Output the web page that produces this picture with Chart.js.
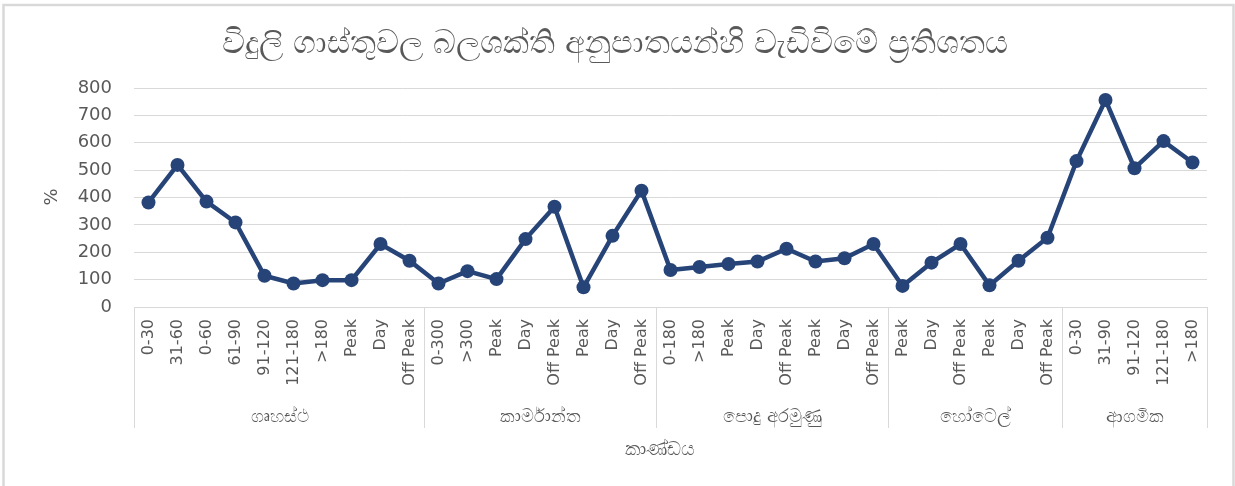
<!DOCTYPE html>
<html>
<head>
<meta charset="utf-8">
<script src="https://cdn.jsdelivr.net/npm/chart.js@4.4.1/dist/chart.umd.min.js"></script>
<style>
html,body{margin:0;padding:0;background:#fff;}
#wrap{width:1235px;height:486px;position:relative;}
</style>
</head>
<body>
<div id="wrap"><canvas id="c" width="1235" height="486"></canvas></div>
<script>
const chartTitle = "විදුලි ගාස්තුවල බලශක්ති අනුපාතයන්හි වැඩිවිමේ ප්‍රතිශතය";
const xAxisTitle = "කාණ්ඩය";
const yAxisTitle = "%";

const groupNames = ["ගෘහස්ථ", "කාර්මාන්ත", "පොදු අරමුණු", "හෝටෙල්", "ආගමික"];
const groupSizes = [10, 8, 8, 6, 5];

const categories = [
  "0-30","31-60","0-60","61-90","91-120","121-180",">180","Peak","Day","Off Peak",
  "0-300",">300","Peak","Day","Off Peak","Peak","Day","Off Peak",
  "0-180",">180","Peak","Day","Off Peak","Peak","Day","Off Peak",
  "Peak","Day","Off Peak","Peak","Day","Off Peak",
  "0-30","31-90","91-120","121-180",">180"
];

const values = [
  382, 519, 385, 309, 114, 86, 98, 98, 230, 169,
  86, 131, 102, 248, 366, 72, 260, 425,
  135, 146, 157, 166, 213, 166, 178, 230,
  77, 162, 230, 79, 169, 253,
  533, 756, 507, 606, 528
];

const yTicks = [0, 100, 200, 300, 400, 500, 600, 700, 800];

const GRAY = "#d9d9d9";
const TEXT = "#595959";
const LINE = "#264478";

const decor = {
  id: "decor",
  beforeDraw(chart) {
    const ctx = chart.ctx;
    ctx.save();
    ctx.fillStyle = "#fff";
    ctx.fillRect(0, 0, chart.width, chart.height);
    ctx.strokeStyle = GRAY;
    ctx.lineWidth = 2.5;
    ctx.beginPath();
    ctx.moveTo(3.5, 490);
    ctx.lineTo(3.5, 5);
    ctx.lineTo(1233.5, 5);
    ctx.lineTo(1233.5, 490);
    ctx.stroke();
    ctx.restore();
  },
  afterDraw(chart) {
    const ctx = chart.ctx;
    const xs = chart.scales.x;
    const area = chart.chartArea;
    ctx.save();
    // title
    ctx.fillStyle = TEXT;
    ctx.textAlign = "center";
    ctx.textBaseline = "middle";
    ctx.font = "32px 'DejaVu Sans', 'Noto Sans', sans-serif";
    ctx.fillText(chartTitle, 615, 45);
    // y title
    ctx.save();
    ctx.translate(52, 197);
    ctx.rotate(-Math.PI / 2);
    ctx.font = "18px 'DejaVu Sans', sans-serif";
    ctx.fillText(yAxisTitle, 0, 0);
    ctx.restore();
    // group separators and labels
    ctx.strokeStyle = GRAY;
    ctx.lineWidth = 1;
    let start = 0;
    const half = (xs.getPixelForValue(1) - xs.getPixelForValue(0)) / 2;
    const boundary = (i) => Math.round(xs.getPixelForValue(i) - half) + 0.5;
    ctx.font = "18px 'DejaVu Sans', 'Noto Sans', sans-serif";
    for (let g = 0; g < groupSizes.length; g++) {
      const x0 = boundary(start);
      const end = start + groupSizes[g];
      const x1 = boundary(end);
      ctx.beginPath();
      ctx.moveTo(x0, area.bottom);
      ctx.lineTo(x0, 428);
      ctx.stroke();
      if (g === groupSizes.length - 1) {
        ctx.beginPath();
        ctx.moveTo(x1, area.bottom);
        ctx.lineTo(x1, 428);
        ctx.stroke();
      }
      ctx.fillText(groupNames[g], (x0 + x1) / 2, 417);
      start = end;
    }
    // x title
    ctx.font = "19px 'DejaVu Sans', 'Noto Sans', sans-serif";
    ctx.fillText(xAxisTitle, 660, 450);
    ctx.restore();
  }
};

new Chart(document.getElementById("c"), {
  type: "line",
  data: {
    labels: categories,
    datasets: [{
      data: values,
      borderColor: LINE,
      backgroundColor: LINE,
      borderWidth: 4.5,
      pointRadius: 7,
      pointHoverRadius: 7,
      pointBackgroundColor: LINE,
      pointBorderColor: LINE,
      pointBorderWidth: 0,
      tension: 0,
      fill: false
    }]
  },
  options: {
    responsive: false,
    animation: false,
    events: [],
    layout: { padding: { top: 88, right: 28, left: 0, bottom: 0 } },
    plugins: {
      legend: { display: false },
      title: { display: false },
      tooltip: { enabled: false }
    },
    scales: {
      x: {
        type: "category",
        offset: true,
        grid: { display: false, drawTicks: false },
        border: { display: true, color: GRAY, width: 1 },
        ticks: {
          autoSkip: false,
          minRotation: 90,
          maxRotation: 90,
          padding: 12,
          color: TEXT,
          font: { family: "'DejaVu Sans', sans-serif", size: 16 }
        },
        afterFit(scale) { scale.height = 179; }
      },
      y: {
        min: 0,
        max: 800,
        afterBuildTicks(scale) { scale.ticks = yTicks.map(v => ({ value: v })); },
        grid: { color: GRAY, lineWidth: 1, drawTicks: false },
        border: { display: false },
        ticks: {
          padding: 22,
          color: TEXT,
          font: { family: "'DejaVu Sans', sans-serif", size: 18 }
        },
        afterFit(scale) { scale.width = 134; }
      }
    }
  },
  plugins: [decor]
});
</script>
</body>
</html>
